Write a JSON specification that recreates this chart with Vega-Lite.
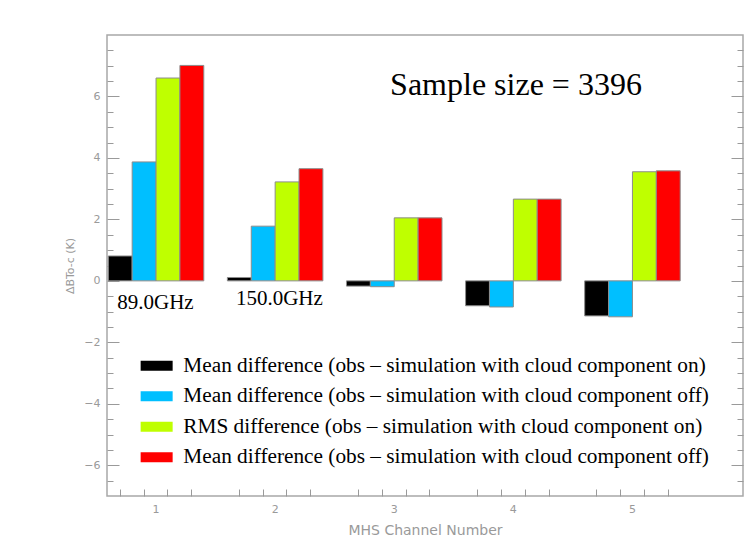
{
  "$schema": "https://vega.github.io/schema/vega-lite/v6.json",
  "width": 636,
  "height": 461,
  "autosize": {"type": "none"},
  "padding": {"left": 107, "top": 35, "right": 4, "bottom": 44},
  "background": "white",
  "view": {"stroke": "#a8a8a8", "strokeWidth": 1.5},
  "config": {
    "axis": {
      "labelFont": "DejaVu Sans",
      "labelColor": "#9a9a9a",
      "labelFontSize": 11,
      "titleFont": "DejaVu Sans",
      "titleColor": "#9a9a9a",
      "titleFontWeight": "normal",
      "tickColor": "#9a9a9a",
      "tickWidth": 1,
      "domain": false,
      "grid": false
    }
  },
  "resolve": {
    "scale": {"x": "independent"},
    "axis": {"x": "independent", "y": "independent"}
  },
  "layer": [
    {
      "data": {
        "values": [
          {"channel": "1", "series": "mean_on", "value": 0.81},
          {"channel": "1", "series": "mean_off", "value": 3.87},
          {"channel": "1", "series": "rms_on", "value": 6.6},
          {"channel": "1", "series": "rms_off", "value": 7.01},
          {"channel": "2", "series": "mean_on", "value": 0.11},
          {"channel": "2", "series": "mean_off", "value": 1.78},
          {"channel": "2", "series": "rms_on", "value": 3.22},
          {"channel": "2", "series": "rms_off", "value": 3.65},
          {"channel": "3", "series": "mean_on", "value": -0.17},
          {"channel": "3", "series": "mean_off", "value": -0.19},
          {"channel": "3", "series": "rms_on", "value": 2.05},
          {"channel": "3", "series": "rms_off", "value": 2.05},
          {"channel": "4", "series": "mean_on", "value": -0.81},
          {"channel": "4", "series": "mean_off", "value": -0.85},
          {"channel": "4", "series": "rms_on", "value": 2.66},
          {"channel": "4", "series": "rms_off", "value": 2.66},
          {"channel": "5", "series": "mean_on", "value": -1.14},
          {"channel": "5", "series": "mean_off", "value": -1.17},
          {"channel": "5", "series": "rms_on", "value": 3.55},
          {"channel": "5", "series": "rms_off", "value": 3.58}
        ]
      },
      "mark": {"type": "bar", "stroke": "#8c8c8c", "strokeWidth": 1},
      "encoding": {
        "x": {
          "field": "channel",
          "type": "ordinal",
          "scale": {"paddingInner": 0.198, "paddingOuter": 0.269, "align": 0.02, "round": false},
          "axis": {
            "orient": "bottom",
            "ticks": false,
            "labelAngle": 0,
            "labelPadding": 7,
            "title": "MHS Channel Number",
            "titleFontSize": 14,
            "titlePadding": 9
          }
        },
        "xOffset": {
          "field": "series",
          "type": "nominal",
          "sort": ["mean_on", "mean_off", "rms_on", "rms_off"],
          "scale": {"paddingInner": 0, "paddingOuter": 0}
        },
        "y": {
          "field": "value",
          "type": "quantitative",
          "scale": {"domain": [-7, 8], "nice": false},
          "axis": {
            "orient": "left",
            "values": [-6.5, -6, -5.5, -5, -4.5, -4, -3.5, -3, -2.5, -2, -1.5, -1, -0.5, 0, 0.5, 1, 1.5, 2, 2.5, 3, 3.5, 4, 4.5, 5, 5.5, 6, 6.5, 7, 7.5],
            "labelExpr": "datum.value % 2 === 0 ? format(datum.value, 'd') : ''",
            "labelOverlap": false,
            "tickSize": {"condition": {"test": "datum.value % 2 === 0", "value": -12}, "value": -6},
            "labelPadding": 19,
            "title": "ΔBTo-c (K)",
            "titleFontSize": 11,
            "titlePadding": 8
          }
        },
        "color": {
          "field": "series",
          "type": "nominal",
          "scale": {
            "domain": ["mean_on", "mean_off", "rms_on", "rms_off"],
            "range": ["#000000", "#00BFFF", "#BFFF00", "#FF0000"]
          },
          "legend": {
            "orient": "none",
            "legendX": 39,
            "legendY": 320,
            "title": null,
            "padding": 0,
            "symbolType": "M-1.6,-0.5H1.6V0.5H-1.6Z",
            "symbolSize": 400,
            "symbolStrokeWidth": 0,
            "labelFont": "Liberation Serif",
            "labelFontSize": 21.3,
            "labelColor": "#000000",
            "labelLimit": 700,
            "labelOffset": 16,
            "rowPadding": 8.5,
            "labelExpr": "datum.value === 'mean_on' ? 'Mean difference (obs – simulation with cloud component on)' : datum.value === 'rms_on' ? 'RMS difference (obs – simulation with cloud component on)' : 'Mean difference (obs – simulation with cloud component off)'",
            "encode": {
              "symbols": {
                "update": {
                  "fill": {"signal": "datum.value === 'mean_on' ? '#000000' : datum.value === 'mean_off' ? '#33CCFF' : datum.value === 'rms_on' ? '#CCFF66' : '#FF3300'"},
                  "strokeWidth": {"value": 0}
                }
              }
            }
          }
        }
      }
    },
    {
      "data": {
        "values": [
          {"label": "89.0GHz", "channel": 1.0, "value": -0.93},
          {"label": "150.0GHz", "channel": 2.04, "value": -0.79}
        ]
      },
      "mark": {"type": "text", "font": "Liberation Serif", "fontSize": 21, "baseline": "alphabetic", "align": "center", "color": "#000000"},
      "encoding": {
        "x": {
          "field": "channel",
          "type": "quantitative",
          "scale": {"domain": [0.593, 5.933], "nice": false, "zero": false},
          "axis": {
            "orient": "bottom",
            "values": [0.7, 0.9, 1.1, 1.3, 1.7, 1.9, 2.1, 2.3, 2.7, 2.9, 3.1, 3.3, 3.7, 3.9, 4.1, 4.3, 4.7, 4.9, 5.1, 5.3],
            "labels": false,
            "tickSize": -7,
            "title": null
          }
        },
        "y": {
          "field": "value",
          "type": "quantitative",
          "axis": {
            "orient": "right",
            "values": [-6.5, -6, -5.5, -5, -4.5, -4, -3.5, -3, -2.5, -2, -1.5, -1, -0.5, 0, 0.5, 1, 1.5, 2, 2.5, 3, 3.5, 4, 4.5, 5, 5.5, 6, 6.5, 7, 7.5],
            "labels": false,
            "tickSize": {"condition": {"test": "datum.value % 2 === 0", "value": -12}, "value": -6},
            "title": null
          }
        },
        "text": {"field": "label"}
      }
    },
    {
      "data": {"values": [{"label": "Sample size = 3396", "channel": 2.97, "value": 6.04}]},
      "mark": {"type": "text", "font": "Liberation Serif", "fontSize": 32, "baseline": "alphabetic", "align": "left", "color": "#000000"},
      "encoding": {
        "x": {
          "field": "channel",
          "type": "quantitative",
          "scale": {"domain": [0.593, 5.933], "nice": false, "zero": false},
          "axis": null
        },
        "y": {"field": "value", "type": "quantitative", "axis": null},
        "text": {"field": "label"}
      }
    }
  ]
}
